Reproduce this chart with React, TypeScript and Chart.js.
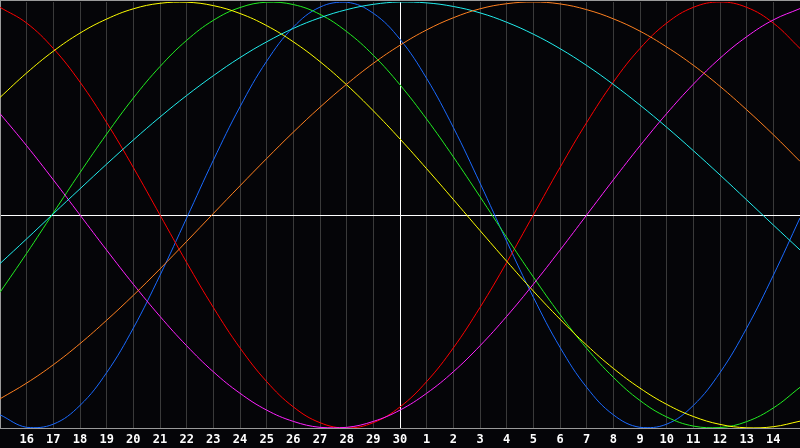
import React, { useEffect, useRef } from "react";
import { Chart, registerables } from "chart.js";

Chart.register(...registerables);

const dayLabels = [
  "15", "16", "17", "18", "19", "20", "21", "22", "23", "24", "25", "26", "27", "28", "29", "30",
  "1", "2", "3", "4", "5", "6", "7", "8", "9", "10", "11", "12", "13", "14", "15",
];

const redValues = [
  0.975, 0.901, 0.782, 0.624, 0.434, 0.223, 0.0, -0.223, -0.434, -0.624, -0.782, -0.901, -0.975, -1.0, -0.975, -0.901,
  -0.782, -0.624, -0.434, -0.223, 0.0, 0.223, 0.434, 0.624, 0.782, 0.901, 0.975, 1.0, 0.975, 0.901, 0.782,
];

const yellowValues = [
  0.552, 0.667, 0.769, 0.854, 0.92, 0.968, 0.994, 0.999, 0.983, 0.946, 0.889, 0.813, 0.72, 0.611, 0.489, 0.357,
  0.217, 0.073, -0.073, -0.217, -0.357, -0.489, -0.611, -0.72, -0.813, -0.889, -0.946, -0.983, -0.999, -0.994, -0.968,
];

const greenValues = [
  -0.363, -0.18, 0.01, 0.199, 0.38, 0.549, 0.697, 0.82, 0.914, 0.974, 0.999, 0.988, 0.942, 0.861, 0.75, 0.611,
  0.45, 0.273, 0.086, -0.105, -0.291, -0.467, -0.626, -0.762, -0.871, -0.948, -0.991, -0.998, -0.97, -0.906, -0.809,
];

const cyanValues = [
  -0.228, -0.112, 0.006, 0.123, 0.239, 0.352, 0.46, 0.561, 0.654, 0.739, 0.813, 0.876, 0.926, 0.964, 0.989, 1.0,
  0.996, 0.979, 0.949, 0.905, 0.849, 0.781, 0.702, 0.613, 0.516, 0.412, 0.302, 0.188, 0.071, -0.047, -0.164,
];

const blueValues = [
  -0.938, -0.997, -0.982, -0.894, -0.74, -0.531, -0.283, -0.014, 0.257, 0.508, 0.722, 0.882, 0.976, 0.999, 0.947, 0.825,
  0.641, 0.411, 0.15, -0.123, -0.386, -0.621, -0.809, -0.938, -0.997, -0.982, -0.894, -0.74, -0.531, -0.283, -0.014,
];

const orangeValues = [
  -0.863, -0.789, -0.703, -0.604, -0.494, -0.377, -0.253, -0.124, 0.007, 0.137, 0.265, 0.389, 0.506, 0.614, 0.712, 0.797,
  0.869, 0.926, 0.968, 0.992, 1.0, 0.991, 0.964, 0.921, 0.863, 0.789, 0.703, 0.604, 0.494, 0.377, 0.252,
];

const magentaValues = [
  0.476, 0.325, 0.165, 0.0, -0.165, -0.325, -0.476, -0.614, -0.736, -0.837, -0.916, -0.969, -0.997, -0.997, -0.969, -0.916,
  -0.837, -0.736, -0.614, -0.476, -0.325, -0.165, 0.0, 0.165, 0.325, 0.476, 0.614, 0.736, 0.837, 0.916, 0.969,
];

const seriesColors = {
  red: "#ff0000",
  yellow: "#ffff00",
  green: "#22ee22",
  cyan: "#22eeee",
  blue: "#1a6aff",
  orange: "#ff8020",
  magenta: "#ff22ff",
};

const todayIndex = 15;

const frame = {
  id: "frame",
  beforeDatasetsDraw(chart: any) {
    const { ctx, chartArea } = chart;
    ctx.save();
    ctx.strokeStyle = "#9a9a9a";
    ctx.lineWidth = 1;
    ctx.beginPath();
    ctx.moveTo(chartArea.left, 0.5);
    ctx.lineTo(chartArea.right, 0.5);
    ctx.moveTo(chartArea.left + 0.5, 0);
    ctx.lineTo(chartArea.left + 0.5, chartArea.bottom);
    ctx.moveTo(chartArea.left, chartArea.bottom + 0.5);
    ctx.lineTo(chartArea.right, chartArea.bottom + 0.5);
    ctx.stroke();
    ctx.restore();
  },
};

export default function App() {
  const ref = useRef<HTMLCanvasElement | null>(null);

  useEffect(() => {
    document.body.style.margin = "0";
    document.body.style.background = "#050508";
    const canvas = ref.current;
    if (!canvas) return;
    const mk = (values: number[], color: string) => ({
      data: values,
      borderColor: color,
      borderWidth: 1,
      pointRadius: 0,
      pointHoverRadius: 0,
      fill: false,
      tension: 0.4,
    });
    const chart = new Chart(canvas, {
      type: "line",
      data: {
        labels: dayLabels,
        datasets: [
          mk(orangeValues, seriesColors.orange),
          mk(cyanValues, seriesColors.cyan),
          mk(magentaValues, seriesColors.magenta),
          mk(yellowValues, seriesColors.yellow),
          mk(greenValues, seriesColors.green),
          mk(redValues, seriesColors.red),
          mk(blueValues, seriesColors.blue),
        ],
      },
      options: {
        animation: false,
        responsive: false,
        devicePixelRatio: 1,
        layout: { autoPadding: false, padding: { top: 2, left: 0, right: 0, bottom: 0 } },
        plugins: { legend: { display: false }, tooltip: { enabled: false } },
        scales: {
          x: {
            type: "category",
            offset: false,
            border: { display: false },
            grid: {
              drawTicks: false,
              lineWidth: 1,
              color: (c: any) => (c.index === todayIndex ? "#ffffff" : "#3a3a3a"),
            },
            ticks: {
              autoSkip: false,
              maxRotation: 0,
              padding: 5,
              color: "#ffffff",
              font: { family: "DejaVu Sans Mono", size: 12, weight: "bold" },
              callback: (_v: any, i: number) =>
                i === 0 || i === dayLabels.length - 1 ? "" : dayLabels[i],
            },
            afterFit: (axis: any) => {
              axis.height = 20;
              axis.paddingLeft = 0;
              axis.paddingRight = 0;
            },
          },
          y: {
            min: -1,
            max: 1,
            border: { display: false },
            grid: {
              drawTicks: false,
              lineWidth: 1,
              color: (c: any) => (c.tick && c.tick.value === 0 ? "#ffffff" : "rgba(0,0,0,0)"),
            },
            ticks: { display: false, stepSize: 0.5 },
            afterFit: (axis: any) => {
              axis.width = 0;
            },
          },
        },
      },
      plugins: [frame],
    });
    return () => chart.destroy();
  }, []);

  return (
    <div style={{ width: 800, height: 448, background: "#050508" }}>
      <canvas ref={ref} width={800} height={448} style={{ display: "block" }} />
    </div>
  );
}
